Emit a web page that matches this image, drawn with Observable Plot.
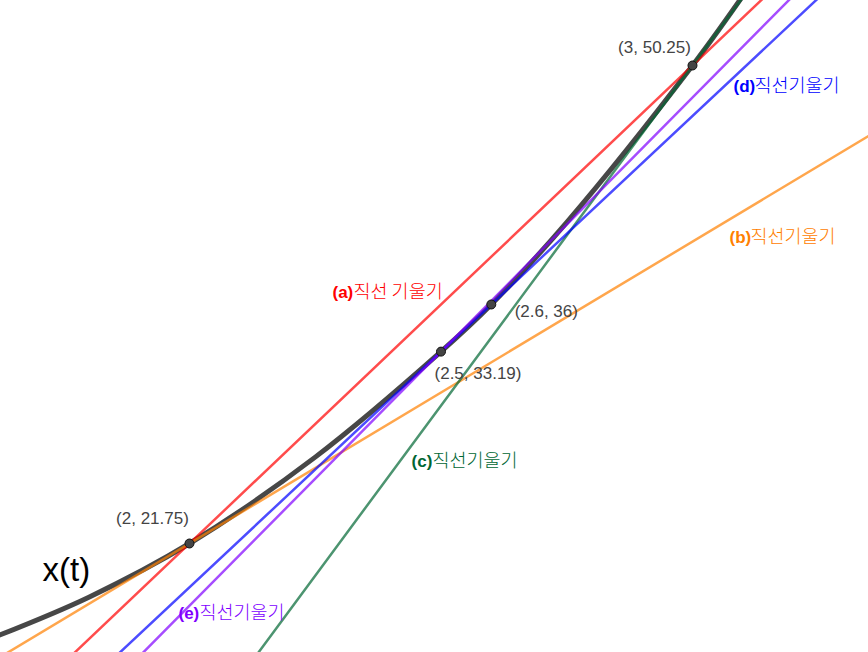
<!DOCTYPE html>
<html><head><meta charset="utf-8">
<script src="https://cdn.jsdelivr.net/npm/d3@7"></script>
<script src="https://cdn.jsdelivr.net/npm/@observablehq/plot@0.6"></script>
<style>body{margin:0;background:#fff}</style>
</head><body><div id="chart"></div>
<script>
// curve x(t)
const curveT = [1.62, 1.8, 2, 2.25, 2.5, 2.6, 2.75, 3, 3.1];
const curveX = [16.26, 18.55, 21.75, 26.9, 33.19, 36, 40.9, 50.25, 54.4];

// marked points
const pointT = [2, 2.5, 2.6, 3];
const pointX = [21.75, 33.19, 36, 50.25];
const pointLabels = ["(2, 21.75)", "(2.5, 33.19)", "(2.6, 36)", "(3, 50.25)"];

// lines: name, anchor point, slope
const lineNames = ["a", "b", "c", "d", "e"];
const lineAnchorT = [2, 2, 3, 2.5, 2.5];
const lineAnchorX = [21.75, 21.75, 50.25, 33.19, 33.19];
const lineSlopes = [28.5, 18, 40.56, 28.1, 30.3];
const lineTags = ["(a)", "(b)", "(c)", "(d)", "(e)"];
const lineTexts = ["직선 기울기", "직선기울기", "직선기울기", "직선기울기", "직선기울기"];
const curveLabel = "x(t)";

// ---- styling / layout ----
const W = 868, H = 652;
const xDomain = [1.6243, 3.3499], yDomain = [15.251, 54.125];
const colors = {a: "#ff0000", b: "#ff8000", c: "#006633", d: "#0000ff", e: "#8000ff"};
const lineLabelPos = {a: [2.2843, 36.72], b: [3.0736, 39.99], c: [2.4414, 26.64], d: [3.0815, 49.0], e: [1.9781, 17.58]};
const pointLabelOffset = [[-37, -25], [37, 22], [55, 7], [-38, -18]];
const curveLabelPos = [1.7078, 20.14];

const curveRows = curveT.map((t, i) => ({t, v: curveX[i]}));
const lineRows = lineNames.flatMap((n, i) => xDomain.map(t => ({name: n, t, v: lineAnchorX[i] + lineSlopes[i] * (t - lineAnchorT[i])})));
const pts = pointT.map((t, i) => ({t, v: pointX[i], label: pointLabels[i]}));
const lbls = lineNames.map((n, i) => ({name: n, t: lineLabelPos[n][0], v: lineLabelPos[n][1], tag: lineTags[i], text: lineTexts[i]}));

const font = "'Liberation Sans', 'Noto Sans CJK KR', sans-serif";
const krFont = "'Noto Sans CJK KR', sans-serif";

const marks = [
  Plot.line(curveRows, {x: "t", y: "v", stroke: "#000", strokeOpacity: 0.72, strokeWidth: 5, curve: "catmull-rom", clip: true}),
  Plot.line(lineRows, {x: "t", y: "v", z: "name", stroke: d => colors[d.name], strokeOpacity: 0.7, strokeWidth: 2.5, clip: true}),
  Plot.dot(pts, {x: "t", y: "v", r: 4.5, fill: "#444", stroke: "#111", strokeWidth: 1}),
];
pts.forEach((p, i) => {
  marks.push(Plot.text([p], {x: "t", y: "v", text: "label", dx: pointLabelOffset[i][0], dy: pointLabelOffset[i][1], fontSize: 17, fill: "#444", fontFamily: font}));
});
marks.push(Plot.text(lbls, {x: "t", y: "v", text: "tag", fill: d => colors[d.name], fontWeight: "bold", fontSize: 17, textAnchor: "start", fontFamily: font}));
marks.push(Plot.text(lbls, {x: "t", y: "v", text: "text", fill: d => colors[d.name], fontSize: 18.5, fontWeight: 300, textAnchor: "start", dx: 21, fontFamily: krFont}));
marks.push(Plot.text([{t: curveLabelPos[0], v: curveLabelPos[1], s: curveLabel}], {x: "t", y: "v", text: "s", fontSize: 33, fill: "#000", textAnchor: "start", fontFamily: font}));

const chart = Plot.plot({
  width: W, height: H, margin: 0,
  x: {domain: xDomain, axis: null},
  y: {domain: yDomain, axis: null},
  style: {background: "#fff", fontFamily: font},
  marks
});
document.getElementById("chart").appendChild(chart);
</script>
</body></html>
